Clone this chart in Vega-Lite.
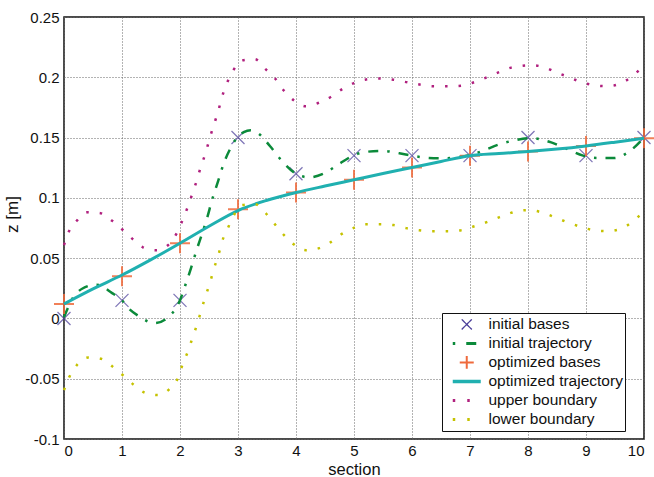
{
  "$schema": "https://vega.github.io/schema/vega-lite/v6.json",
  "width": 580,
  "height": 422,
  "autosize": "none",
  "padding": {"left": 64, "top": 17, "right": 10, "bottom": 38},
  "background": "white",
  "config": {
    "font": "Liberation Sans",
    "view": {"stroke": "#111", "strokeWidth": 1.5},
    "axis": {
      "domain": false,
      "ticks": false,
      "grid": true,
      "gridColor": "#666",
      "gridDash": [1, 2],
      "gridWidth": 1,
      "gridOpacity": 1,
      "labelFont": "Liberation Sans",
      "labelFontSize": 15,
      "labelColor": "#111",
      "titleFont": "Liberation Sans",
      "titleFontSize": 17,
      "titleFontWeight": "normal",
      "titleColor": "#111"
    }
  },
  "datasets": {
    "initBases": [
      {"series": "initial bases", "x": 0, "z": 0},
      {"series": "initial bases", "x": 1, "z": 0.015},
      {"series": "initial bases", "x": 2, "z": 0.015},
      {"series": "initial bases", "x": 3, "z": 0.15},
      {"series": "initial bases", "x": 4, "z": 0.12},
      {"series": "initial bases", "x": 5, "z": 0.135},
      {"series": "initial bases", "x": 6, "z": 0.135},
      {"series": "initial bases", "x": 7, "z": 0.135},
      {"series": "initial bases", "x": 8, "z": 0.15},
      {"series": "initial bases", "x": 9, "z": 0.135},
      {"series": "initial bases", "x": 10, "z": 0.15}
    ],
    "initTraj": [
      {"series": "initial trajectory", "x": 0, "z": 0.001},
      {"series": "initial trajectory", "x": 0.15, "z": 0.0168},
      {"series": "initial trajectory", "x": 0.32, "z": 0.0248},
      {"series": "initial trajectory", "x": 0.56, "z": 0.028},
      {"series": "initial trajectory", "x": 0.83, "z": 0.021},
      {"series": "initial trajectory", "x": 1.0, "z": 0.015},
      {"series": "initial trajectory", "x": 1.11, "z": 0.0085},
      {"series": "initial trajectory", "x": 1.29, "z": 0.0019},
      {"series": "initial trajectory", "x": 1.56, "z": -0.0039},
      {"series": "initial trajectory", "x": 1.81, "z": 0.0016},
      {"series": "initial trajectory", "x": 2.0, "z": 0.015},
      {"series": "initial trajectory", "x": 2.09, "z": 0.0273},
      {"series": "initial trajectory", "x": 2.19, "z": 0.0417},
      {"series": "initial trajectory", "x": 2.28, "z": 0.0558},
      {"series": "initial trajectory", "x": 2.39, "z": 0.0716},
      {"series": "initial trajectory", "x": 2.47, "z": 0.0837},
      {"series": "initial trajectory", "x": 2.55, "z": 0.0978},
      {"series": "initial trajectory", "x": 2.66, "z": 0.1143},
      {"series": "initial trajectory", "x": 2.75, "z": 0.128},
      {"series": "initial trajectory", "x": 2.88, "z": 0.142},
      {"series": "initial trajectory", "x": 3.0, "z": 0.151},
      {"series": "initial trajectory", "x": 3.1, "z": 0.1545},
      {"series": "initial trajectory", "x": 3.22, "z": 0.156},
      {"series": "initial trajectory", "x": 3.35, "z": 0.1535},
      {"series": "initial trajectory", "x": 3.55, "z": 0.143},
      {"series": "initial trajectory", "x": 3.75, "z": 0.131},
      {"series": "initial trajectory", "x": 3.97, "z": 0.121},
      {"series": "initial trajectory", "x": 4.22, "z": 0.117},
      {"series": "initial trajectory", "x": 4.5, "z": 0.1207},
      {"series": "initial trajectory", "x": 4.74, "z": 0.128},
      {"series": "initial trajectory", "x": 5.0, "z": 0.1354},
      {"series": "initial trajectory", "x": 5.19, "z": 0.138},
      {"series": "initial trajectory", "x": 5.49, "z": 0.139},
      {"series": "initial trajectory", "x": 5.78, "z": 0.137},
      {"series": "initial trajectory", "x": 6.0, "z": 0.135},
      {"series": "initial trajectory", "x": 6.2, "z": 0.1335},
      {"series": "initial trajectory", "x": 6.5, "z": 0.1328},
      {"series": "initial trajectory", "x": 6.75, "z": 0.1335},
      {"series": "initial trajectory", "x": 7.0, "z": 0.1355},
      {"series": "initial trajectory", "x": 7.22, "z": 0.139},
      {"series": "initial trajectory", "x": 7.48, "z": 0.144},
      {"series": "initial trajectory", "x": 7.76, "z": 0.1476},
      {"series": "initial trajectory", "x": 8.05, "z": 0.1495},
      {"series": "initial trajectory", "x": 8.4, "z": 0.146},
      {"series": "initial trajectory", "x": 8.67, "z": 0.1406},
      {"series": "initial trajectory", "x": 8.95, "z": 0.135},
      {"series": "initial trajectory", "x": 9.21, "z": 0.133},
      {"series": "initial trajectory", "x": 9.48, "z": 0.133},
      {"series": "initial trajectory", "x": 9.76, "z": 0.139},
      {"series": "initial trajectory", "x": 10, "z": 0.15}
    ],
    "optBases": [
      {"series": "optimized bases", "x": 0, "z": 0.012},
      {"series": "optimized bases", "x": 1, "z": 0.035},
      {"series": "optimized bases", "x": 2, "z": 0.0624},
      {"series": "optimized bases", "x": 3, "z": 0.0906},
      {"series": "optimized bases", "x": 4, "z": 0.1044},
      {"series": "optimized bases", "x": 5, "z": 0.115},
      {"series": "optimized bases", "x": 6, "z": 0.1251},
      {"series": "optimized bases", "x": 7, "z": 0.135},
      {"series": "optimized bases", "x": 8, "z": 0.1384},
      {"series": "optimized bases", "x": 9, "z": 0.1431},
      {"series": "optimized bases", "x": 10, "z": 0.1495}
    ],
    "optTraj": [
      {"series": "optimized trajectory", "x": 0, "z": 0.012},
      {"series": "optimized trajectory", "x": 0.5, "z": 0.0245},
      {"series": "optimized trajectory", "x": 1, "z": 0.036},
      {"series": "optimized trajectory", "x": 1.5, "z": 0.0488},
      {"series": "optimized trajectory", "x": 2, "z": 0.0624},
      {"series": "optimized trajectory", "x": 2.5, "z": 0.0765},
      {"series": "optimized trajectory", "x": 3, "z": 0.0895},
      {"series": "optimized trajectory", "x": 3.5, "z": 0.098},
      {"series": "optimized trajectory", "x": 4, "z": 0.1044},
      {"series": "optimized trajectory", "x": 4.5, "z": 0.1098},
      {"series": "optimized trajectory", "x": 5, "z": 0.115},
      {"series": "optimized trajectory", "x": 5.5, "z": 0.1202},
      {"series": "optimized trajectory", "x": 6, "z": 0.1251},
      {"series": "optimized trajectory", "x": 6.5, "z": 0.1302},
      {"series": "optimized trajectory", "x": 7, "z": 0.135},
      {"series": "optimized trajectory", "x": 7.5, "z": 0.1368},
      {"series": "optimized trajectory", "x": 8, "z": 0.1384},
      {"series": "optimized trajectory", "x": 8.5, "z": 0.1405},
      {"series": "optimized trajectory", "x": 9, "z": 0.1431},
      {"series": "optimized trajectory", "x": 9.5, "z": 0.1462},
      {"series": "optimized trajectory", "x": 10, "z": 0.1495}
    ],
    "upper": [
      {"series": "upper boundary", "x": 0, "z": 0.0608},
      {"series": "upper boundary", "x": 0.08, "z": 0.0716},
      {"series": "upper boundary", "x": 0.22, "z": 0.081},
      {"series": "upper boundary", "x": 0.41, "z": 0.088},
      {"series": "upper boundary", "x": 0.63, "z": 0.0873},
      {"series": "upper boundary", "x": 0.83, "z": 0.081},
      {"series": "upper boundary", "x": 1.0, "z": 0.074},
      {"series": "upper boundary", "x": 1.18, "z": 0.066},
      {"series": "upper boundary", "x": 1.36, "z": 0.059},
      {"series": "upper boundary", "x": 1.59, "z": 0.0566},
      {"series": "upper boundary", "x": 1.8, "z": 0.061},
      {"series": "upper boundary", "x": 1.94, "z": 0.0704},
      {"series": "upper boundary", "x": 2.04, "z": 0.081},
      {"series": "upper boundary", "x": 2.13, "z": 0.092},
      {"series": "upper boundary", "x": 2.21, "z": 0.103},
      {"series": "upper boundary", "x": 2.29, "z": 0.1145},
      {"series": "upper boundary", "x": 2.36, "z": 0.126},
      {"series": "upper boundary", "x": 2.44, "z": 0.137},
      {"series": "upper boundary", "x": 2.51, "z": 0.149},
      {"series": "upper boundary", "x": 2.58, "z": 0.16},
      {"series": "upper boundary", "x": 2.66, "z": 0.172},
      {"series": "upper boundary", "x": 2.72, "z": 0.183},
      {"series": "upper boundary", "x": 2.8, "z": 0.194},
      {"series": "upper boundary", "x": 2.91, "z": 0.205},
      {"series": "upper boundary", "x": 3.07, "z": 0.214},
      {"series": "upper boundary", "x": 3.29, "z": 0.215},
      {"series": "upper boundary", "x": 3.47, "z": 0.207},
      {"series": "upper boundary", "x": 3.64, "z": 0.199},
      {"series": "upper boundary", "x": 3.79, "z": 0.189},
      {"series": "upper boundary", "x": 3.96, "z": 0.181},
      {"series": "upper boundary", "x": 4.17, "z": 0.176},
      {"series": "upper boundary", "x": 4.4, "z": 0.179},
      {"series": "upper boundary", "x": 4.61, "z": 0.184},
      {"series": "upper boundary", "x": 4.79, "z": 0.19},
      {"series": "upper boundary", "x": 4.99, "z": 0.195},
      {"series": "upper boundary", "x": 5.19, "z": 0.198},
      {"series": "upper boundary", "x": 5.44, "z": 0.199},
      {"series": "upper boundary", "x": 5.68, "z": 0.198},
      {"series": "upper boundary", "x": 5.9, "z": 0.196},
      {"series": "upper boundary", "x": 6.13, "z": 0.194},
      {"series": "upper boundary", "x": 6.36, "z": 0.1925},
      {"series": "upper boundary", "x": 6.61, "z": 0.1925},
      {"series": "upper boundary", "x": 6.85, "z": 0.193},
      {"series": "upper boundary", "x": 7.08, "z": 0.196},
      {"series": "upper boundary", "x": 7.29, "z": 0.2},
      {"series": "upper boundary", "x": 7.49, "z": 0.204},
      {"series": "upper boundary", "x": 7.71, "z": 0.208},
      {"series": "upper boundary", "x": 7.82, "z": 0.209},
      {"series": "upper boundary", "x": 8.05, "z": 0.21},
      {"series": "upper boundary", "x": 8.28, "z": 0.2084},
      {"series": "upper boundary", "x": 8.49, "z": 0.204},
      {"series": "upper boundary", "x": 8.71, "z": 0.2},
      {"series": "upper boundary", "x": 8.92, "z": 0.196},
      {"series": "upper boundary", "x": 9.14, "z": 0.1934},
      {"series": "upper boundary", "x": 9.38, "z": 0.1926},
      {"series": "upper boundary", "x": 9.6, "z": 0.195},
      {"series": "upper boundary", "x": 9.8, "z": 0.201},
      {"series": "upper boundary", "x": 10, "z": 0.21}
    ],
    "lower": [
      {"series": "lower boundary", "x": 0, "z": -0.0595},
      {"series": "lower boundary", "x": 0.09, "z": -0.0487},
      {"series": "lower boundary", "x": 0.22, "z": -0.0388},
      {"series": "lower boundary", "x": 0.42, "z": -0.0324},
      {"series": "lower boundary", "x": 0.64, "z": -0.0335},
      {"series": "lower boundary", "x": 0.83, "z": -0.0396},
      {"series": "lower boundary", "x": 1.02, "z": -0.0473},
      {"series": "lower boundary", "x": 1.2, "z": -0.055},
      {"series": "lower boundary", "x": 1.4, "z": -0.0617},
      {"series": "lower boundary", "x": 1.63, "z": -0.0636},
      {"series": "lower boundary", "x": 1.82, "z": -0.0584},
      {"series": "lower boundary", "x": 1.97, "z": -0.0487},
      {"series": "lower boundary", "x": 2.05, "z": -0.0374},
      {"series": "lower boundary", "x": 2.14, "z": -0.0269},
      {"series": "lower boundary", "x": 2.22, "z": -0.0153},
      {"series": "lower boundary", "x": 2.3, "z": -0.0042},
      {"series": "lower boundary", "x": 2.37, "z": 0.0074},
      {"series": "lower boundary", "x": 2.44, "z": 0.0185},
      {"series": "lower boundary", "x": 2.52, "z": 0.03},
      {"series": "lower boundary", "x": 2.58, "z": 0.0406},
      {"series": "lower boundary", "x": 2.66, "z": 0.052},
      {"series": "lower boundary", "x": 2.72, "z": 0.063},
      {"series": "lower boundary", "x": 2.82, "z": 0.0743},
      {"series": "lower boundary", "x": 2.92, "z": 0.0848},
      {"series": "lower boundary", "x": 3.07, "z": 0.094},
      {"series": "lower boundary", "x": 3.29, "z": 0.0948},
      {"series": "lower boundary", "x": 3.47, "z": 0.0876},
      {"series": "lower boundary", "x": 3.63, "z": 0.0784},
      {"series": "lower boundary", "x": 3.79, "z": 0.0693},
      {"series": "lower boundary", "x": 3.96, "z": 0.0616},
      {"series": "lower boundary", "x": 4.17, "z": 0.0566},
      {"series": "lower boundary", "x": 4.4, "z": 0.0583},
      {"series": "lower boundary", "x": 4.6, "z": 0.0633},
      {"series": "lower boundary", "x": 4.79, "z": 0.0701},
      {"series": "lower boundary", "x": 4.99, "z": 0.0749},
      {"series": "lower boundary", "x": 5.18, "z": 0.0782},
      {"series": "lower boundary", "x": 5.44, "z": 0.0782},
      {"series": "lower boundary", "x": 5.68, "z": 0.0774},
      {"series": "lower boundary", "x": 5.9, "z": 0.0749},
      {"series": "lower boundary", "x": 6.12, "z": 0.0732},
      {"series": "lower boundary", "x": 6.36, "z": 0.0724},
      {"series": "lower boundary", "x": 6.61, "z": 0.0724},
      {"series": "lower boundary", "x": 6.85, "z": 0.0732},
      {"series": "lower boundary", "x": 7.08, "z": 0.0765},
      {"series": "lower boundary", "x": 7.29, "z": 0.0799},
      {"series": "lower boundary", "x": 7.51, "z": 0.084},
      {"series": "lower boundary", "x": 7.72, "z": 0.0878},
      {"series": "lower boundary", "x": 7.79, "z": 0.089},
      {"series": "lower boundary", "x": 8.02, "z": 0.0898},
      {"series": "lower boundary", "x": 8.25, "z": 0.0878},
      {"series": "lower boundary", "x": 8.46, "z": 0.084},
      {"series": "lower boundary", "x": 8.67, "z": 0.0799},
      {"series": "lower boundary", "x": 8.91, "z": 0.076},
      {"series": "lower boundary", "x": 9.13, "z": 0.0732},
      {"series": "lower boundary", "x": 9.37, "z": 0.0724},
      {"series": "lower boundary", "x": 9.6, "z": 0.0743},
      {"series": "lower boundary", "x": 9.8, "z": 0.0803},
      {"series": "lower boundary", "x": 10, "z": 0.089}
    ]
  },
  "encoding": {
    "x": {
      "field": "x", "type": "quantitative",
      "scale": {"domain": [0, 10], "nice": false, "zero": false},
      "axis": {
        "title": "section",
        "values": [0, 1, 2, 3, 4, 5, 6, 7, 8, 9, 10],
        "labelPadding": 4,
        "titleFontSize": 16.5,
        "titleBaseline": "bottom",
        "titleY": 38
      }
    },
    "y": {
      "field": "z", "type": "quantitative",
      "scale": {"domain": [-0.1, 0.25], "nice": false, "zero": false},
      "axis": {
        "title": "z [m]",
        "values": [-0.1, -0.05, 0, 0.05, 0.1, 0.15, 0.2, 0.25],
        "labelExpr": "'' + datum.value",
        "labelPadding": 5,
        "titleAngle": -90,
        "titleBaseline": "alphabetic",
        "titleAlign": "center",
        "titleX": -47,
        "titleY": 197
      }
    },
    "color": {
      "field": "series", "type": "nominal",
      "scale": {
        "domain": ["initial bases", "initial trajectory", "optimized bases", "optimized trajectory", "upper boundary", "lower boundary"],
        "range": ["#4b3f9a", "#0b8a3a", "#ef6a3c", "#20b0b0", "#b0207e", "#c5c200"]
      },
      "legend": {
        "title": null,
        "orient": "none",
        "legendX": 378,
        "legendY": 296,
        "fillColor": "white",
        "strokeColor": "#111",
        "padding": 2,
        "rowPadding": 0,
        "clipHeight": 18.8,
        "symbolSize": 784,
        "symbolOffset": 15,
        "labelOffset": 14,
        "labelFont": "Liberation Sans",
        "labelFontSize": 15.5,
        "labelColor": "#111",
        "labelLimit": 300,
        "encode": {
          "symbols": {
            "update": {
              "shape": {"signal": "datum.value === 'initial bases' ? 'M-0.36,-0.36L0.36,0.36M-0.36,0.36L0.36,-0.36' : datum.value === 'optimized bases' ? 'M-0.5,0L0.5,0M0,-0.45L0,0.45' : 'stroke'"},
              "strokeDash": {"signal": "datum.value === 'initial trajectory' ? [2.5, 11, 10, 20] : (datum.value === 'upper boundary' || datum.value === 'lower boundary') ? [2.5, 12] : [1, 0]"},
              "strokeWidth": {"signal": "datum.value === 'initial bases' ? 1.3 : datum.value === 'optimized bases' ? 2 : datum.value === 'optimized trajectory' ? 3.5 : 3"},
              "fill": {"value": "transparent"},
              "stroke": {"signal": "scale('color', datum.value)"}
            }
          }
        }
      }
    }
  },
  "layer": [
    {
      "data": {"name": "initBases"},
      "mark": {"type": "point", "shape": "M-1,-1L1,1M-1,1L1,-1", "size": 169, "filled": false, "strokeWidth": 1.3}
    },
    {
      "data": {"name": "initTraj"},
      "mark": {"type": "line", "strokeWidth": 2.5, "strokeDash": [10, 9, 2.5, 9], "interpolate": "monotone"}
    },
    {
      "data": {"name": "optBases"},
      "mark": {"type": "point", "shape": "M-1,0L1,0M0,-1L0,1", "size": 400, "filled": false, "strokeWidth": 2, "opacity": 0.85}
    },
    {
      "data": {"name": "optTraj"},
      "mark": {"type": "line", "strokeWidth": 3, "interpolate": "monotone"}
    },
    {
      "data": {"name": "upper"},
      "mark": {"type": "line", "strokeWidth": 2.5, "strokeDash": [2.5, 11], "interpolate": "monotone"}
    },
    {
      "data": {"name": "lower"},
      "mark": {"type": "line", "strokeWidth": 2.5, "strokeDash": [2.5, 11], "interpolate": "monotone"}
    }
  ]
}
